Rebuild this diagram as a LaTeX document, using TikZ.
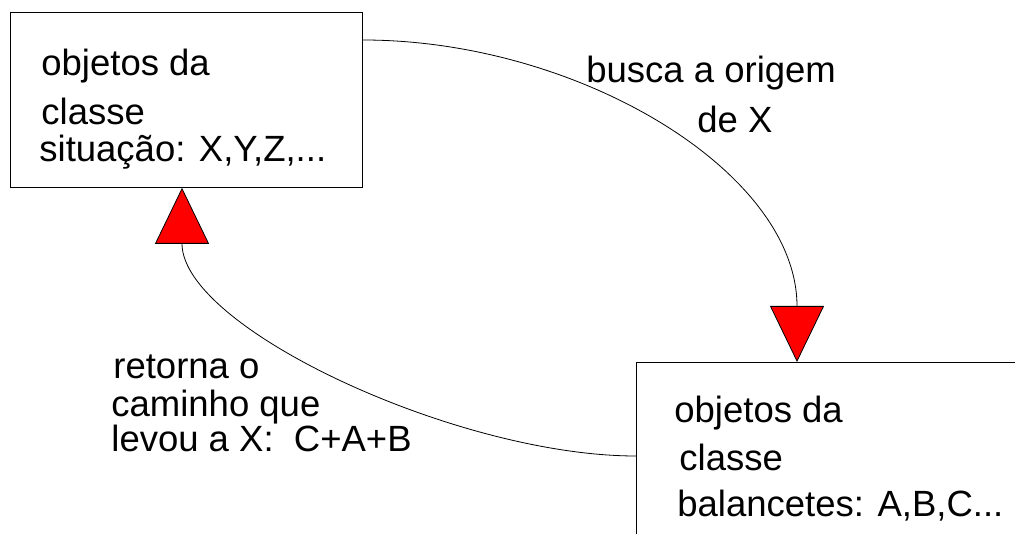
\documentclass[tikz,border=0pt]{standalone}
\usepackage{fontspec}
\setmainfont{Liberation Sans}
\usetikzlibrary{arrows.meta}

\begin{document}
\begin{tikzpicture}[x=1pt, y=-1pt, line width=0.8pt,
    box node/.style={draw, rectangle, inner sep=0pt, anchor=north west},
    label node/.style={anchor=base west, inner sep=0pt, font=\fontsize{36.5}{44}\selectfont},
    red tip/.style={-{Triangle[width=54pt, length=56pt, fill=red]}}]
        \clip (0,0) rectangle (1015,534);

          \node[box node, minimum width=352pt, minimum height=175pt] (1) at (10,12) {};
          \node[box node, minimum width=420pt, minimum height=220pt] (2) at (636,362) {};

          \node[label node] (1a) at (41,76) {objetos da};
          \node[label node] (1b) at (41,125) {classe};
          \node[label node] (1c) at (39,162) {situação: X,Y,Z,...};

          \node[label node] (2a) at (674,423) {objetos da};
          \node[label node] (2b) at (679,471) {classe};
          \node[label node] (2c) at (677,516) {balancetes: A,B,C...};

          \node[label node] (3a) at (586,83) {busca a origem};
          \node[label node] (3b) at (697,133) {de X};

          \node[label node] (4a) at (113,379) {retorna o};
          \node[label node] (4b) at (111,417) {caminho que};
          \node[label node] (4c) at (111,452) {levou a X:\ \ C+A+B};

          \draw[red tip] ([yshift=-28pt]1.north east) .. controls +(216,0) and +(0,-190) .. ([xshift=161pt]2.north west);
          \draw[red tip] ([yshift=-94pt]2.north west) .. controls +(-179,0) and +(0,140) .. ([xshift=172pt]1.south west);

\end{tikzpicture}
\end{document}
